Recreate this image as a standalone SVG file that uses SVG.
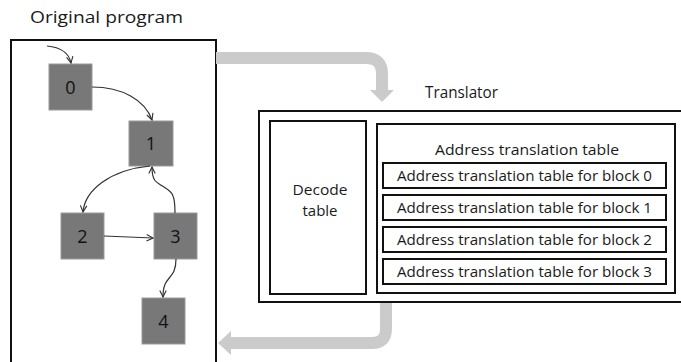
<svg xmlns="http://www.w3.org/2000/svg" width="681" height="362" viewBox="0 0 681 362">
  <style>
    text { font-family: "Open Sans", "Noto Sans", "DejaVu Sans", sans-serif; fill: #1a1a1a; }
    .title { font-size: 17px; }
    .lbl { font-size: 14px; text-anchor: middle; }
    .big { font-size: 15px; }
    .num { font-size: 18px; text-anchor: middle; fill: #111; }
    .box { fill: #ffffff; stroke: #111; stroke-width: 2; }
    .blk { fill: #787878; stroke: #9a9a9a; stroke-width: 1; }
    .edge { fill: none; stroke: #333; stroke-width: 1.2; marker-end: url(#vhead); }
    .flow { fill: none; stroke: #cbcbcb; stroke-width: 12; }
    .flowhead { fill: #cbcbcb; }
  </style>
  <defs>
    <marker id="vhead" viewBox="0 0 10 10" refX="9" refY="5" markerWidth="8" markerHeight="8" markerUnits="userSpaceOnUse" orient="auto">
      <path d="M1,1 L9,5 L1,9" fill="none" stroke="#333" stroke-width="1.4"/>
    </marker>
  </defs>

  <!-- program container -->
  <text class="title" x="30" y="23" textLength="153" lengthAdjust="spacingAndGlyphs">Original program</text>
  <rect class="box" x="11" y="40" width="205" height="330"/>

  <!-- data flow into and out of the translator -->
  <g id="flows">
    <path class="flow" d="M216,58 H366 Q382,58 382,74 V91"/>
    <polygon class="flowhead" points="370,90 394,90 382,102"/>
    <path class="flow" d="M386,302 V329 Q386,343 372,343 H230"/>
    <polygon class="flowhead" points="231,331 231,355 218,343"/>
  </g>

  <!-- basic blocks -->
  <g id="block0"><rect class="blk" x="49" y="64" width="43" height="46"/><text class="num" x="70.5" y="94">0</text></g>
  <g id="block1"><rect class="blk" x="129" y="121" width="44" height="45"/><text class="num" x="151" y="150">1</text></g>
  <g id="block2"><rect class="blk" x="61" y="213" width="43" height="46"/><text class="num" x="82.5" y="243">2</text></g>
  <g id="block3"><rect class="blk" x="154" y="213" width="43" height="46"/><text class="num" x="175.5" y="243">3</text></g>
  <g id="block4"><rect class="blk" x="142" y="298" width="43" height="46"/><text class="num" x="163.5" y="328">4</text></g>

  <!-- control-flow edges -->
  <g id="edges">
    <path class="edge" d="M47,46 Q68,48 71,63"/>
    <path class="edge" d="M92,87 C122,87 145,100 152,120"/>
    <path class="edge" d="M150,166 C110,170 85,190 83,212"/>
    <path class="edge" d="M175,213 C175,194 172,192 164,187 C155,182 152,180 152,167"/>
    <path class="edge" d="M104,236 L153,238"/>
    <path class="edge" d="M176,259 C176,281 163,274 163,297"/>
  </g>

  <!-- translator -->
  <g id="translator">
    <text class="title" x="425" y="98" textLength="73" lengthAdjust="spacingAndGlyphs">Translator</text>
    <rect class="box" x="259" y="111" width="430" height="191"/>
  </g>

  <g id="decode-table">
    <rect class="box" x="270" y="121" width="96" height="173"/>
    <text class="lbl big" x="320" y="195" textLength="55" lengthAdjust="spacingAndGlyphs">Decode</text>
    <text class="lbl big" x="320" y="216">table</text>
  </g>

  <g id="address-table">
    <rect class="box" x="377" y="124" width="298" height="169"/>
    <text class="lbl" x="527" y="155" textLength="184" lengthAdjust="spacingAndGlyphs">Address translation table</text>
  </g>

  <g id="block-table-0">
    <rect class="box" x="383" y="163" width="283" height="25"/>
    <text class="lbl" x="524.5" y="181" textLength="255" lengthAdjust="spacingAndGlyphs">Address translation table for block 0</text>
  </g>
  <g id="block-table-1">
    <rect class="box" x="383" y="195" width="283" height="25"/>
    <text class="lbl" x="524.5" y="213" textLength="255" lengthAdjust="spacingAndGlyphs">Address translation table for block 1</text>
  </g>
  <g id="block-table-2">
    <rect class="box" x="383" y="227" width="283" height="25"/>
    <text class="lbl" x="524.5" y="245" textLength="255" lengthAdjust="spacingAndGlyphs">Address translation table for block 2</text>
  </g>
  <g id="block-table-3">
    <rect class="box" x="383" y="259" width="283" height="25"/>
    <text class="lbl" x="524.5" y="277" textLength="255" lengthAdjust="spacingAndGlyphs">Address translation table for block 3</text>
  </g>
</svg>
